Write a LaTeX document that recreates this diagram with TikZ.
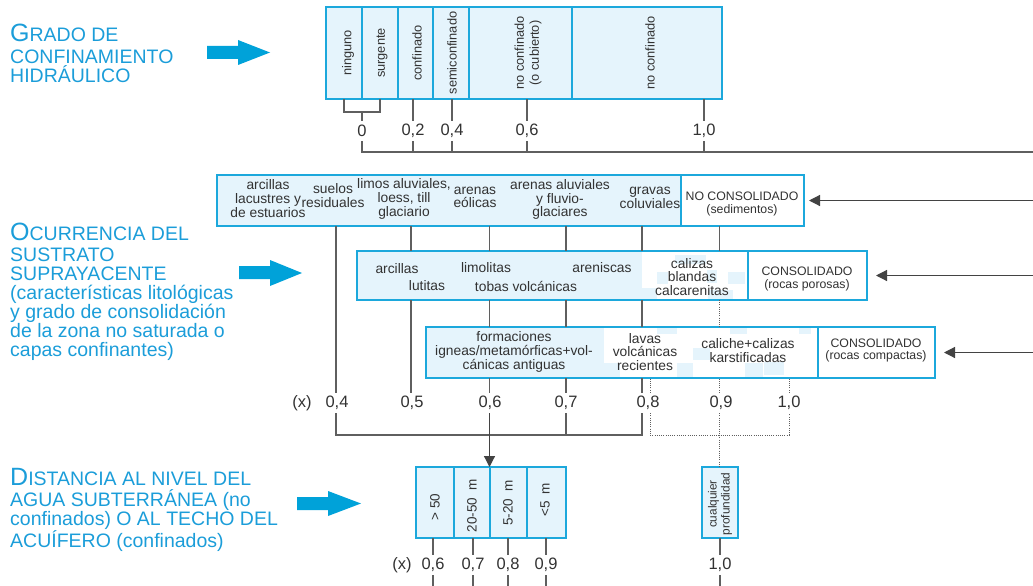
\documentclass[tikz,border=0pt]{standalone}
\usepackage{fontspec}
\setmainfont{Liberation Sans}
\usetikzlibrary{arrows.meta}
\definecolor{ttl}{RGB}{27,157,217}
\definecolor{arw}{RGB}{0,162,217}
\definecolor{bord}{RGB}{28,168,220}
\definecolor{cfill}{RGB}{229,244,252}
\definecolor{lng}{RGB}{95,95,95}
\definecolor{txt}{RGB}{50,50,50}
\tikzset{
 ln/.style={draw=lng, line width=1.2pt},
 dln/.style={draw=lng, line width=1pt, dash pattern=on 1pt off 1.2pt},
 fb/.style={draw=lng!70!black, line width=1.2pt, -{Triangle[length=11pt,width=11pt]}},
 dnarrow/.style={draw=lng!70!black, line width=1.2pt, -{Triangle[length=11pt,width=11pt]}},
 bluecell/.style={fill=cfill, draw=none, inner sep=0, outer sep=0, anchor=north west},
 whitecell/.style={fill=white, draw=none, inner sep=0, outer sep=0, anchor=north west},
 outerbox/.style={draw=bord, line width=2.6pt},
 divl/.style={draw=bord, line width=1.8pt},
 itm/.style={text=txt, align=center, font=\fontsize{13.8}{13.6}\selectfont, inner sep=0},
 cons/.style={text=txt, align=center, font=\fontsize{12.3}{12.5}\selectfont, inner sep=0},
 rot/.style={text=txt, align=center, rotate=90, font=\fontsize{12.8}{15}\selectfont, inner sep=0},
 val/.style={text=txt, font=\fontsize{16.5}{16.5}\selectfont, inner sep=0, minimum height=20pt},
 ttlnode/.style={text=ttl, align=left, anchor=north west, inner sep=0, font=\fontsize{19.5}{19}\selectfont},
 bigarr/.style={fill=arw},
 patch/.style={fill=cfill},
}
\begin{document}
\begin{tikzpicture}[x=1pt,y=-1pt]
\useasboundingbox (0,0) rectangle (1033,586);
\coordinate (redge) at (1033,0);
\coordinate (ytop) at (0,152);
\coordinate (ymid) at (0,435);
\coordinate (ybot) at (0,586);
\coordinate (colA) at (336,0);
\coordinate (colB) at (411,0);
\coordinate (colC) at (489.5,0);
\coordinate (colD) at (566,0);
\coordinate (colE) at (642,0);
\coordinate (colF) at (719.5,0);
\coordinate (colG) at (650,0);
\coordinate (colH) at (789,0);

% ---------- titles ----------
\node[ttlnode] (title1) at (10,24) {{\fontsize{25}{19}\selectfont G}RADO DE\\[2.5pt]CONFINAMIENTO\\HIDRÁULICO};
\node[ttlnode] (title2) at (10,222.5) {{\fontsize{25}{19}\selectfont O}CURRENCIA DEL\\[2pt]SUSTRATO\\SUPRAYACENTE\\(características litológicas\\y grado de consolidación\\de la zona no saturada o\\capas confinantes)};
\node[ttlnode] (title3) at (10,468.5) {{\fontsize{25}{19}\selectfont D}ISTANCIA AL NIVEL DEL\\[2pt]AGUA SUBTERRÁNEA (no\\confinados) O AL TECHO DEL\\ACUÍFERO (confinados)};

% ---------- big arrows ----------
\fill[bigarr] (207,46) -- (238,46) -- (238,40) -- (270,52.5) -- (238,65) -- (238,59) -- (207,59) -- cycle;
\fill[bigarr] (239,266) -- (270,266) -- (270,260) -- (302,273) -- (270,286) -- (270,279) -- (239,279) -- cycle;
\fill[bigarr] (297,497) -- (328,497) -- (328,491) -- (361,503.5) -- (328,516) -- (328,510) -- (297,510) -- cycle;

% ---------- top box ----------
\node[bluecell, minimum width=36, minimum height=92] (c1) at (326,7) {};
\node[bluecell, minimum width=36, minimum height=92] (c2) at (362,7) {};
\node[bluecell, minimum width=35, minimum height=92] (c3) at (398,7) {};
\node[bluecell, minimum width=36, minimum height=92] (c4) at (433,7) {};
\node[bluecell, minimum width=103, minimum height=92] (c5) at (469,7) {};
\node[bluecell, minimum width=150, minimum height=92] (c6) at (572,7) {};
\foreach \c in {c2,c3,c4,c5,c6} \draw[divl] (\c.north west) -- (\c.south west);
\draw[outerbox] (c1.north west) rectangle (c6.south east);
\node[rot] (r1) at (348,53) {ninguno};
\node[rot] (r2) at (382,53) {surgente};
\node[rot] (r3) at (417,53) {confinado};
\node[rot] (r4) at (452,53) {semiconfinado};
\node[rot] (r5) at (528,53) {no confinado\\(o cubierto)};
\node[rot] (r6) at (650,53) {no confinado};

\node[val] (t00) at (362,131) {0};
\node[val] (t02) at (413,131) {0,2};
\node[val] (t04) at (452,131) {0,4};
\node[val] (t06) at (527,131) {0,6};
\node[val] (t10) at (704,131) {1,0};
\draw[ln] (c1.south) -- ++(0,13) -| (c2.south);
\draw[ln] (t00.north) -- ++(0,-9);
\foreach \t in {t02,t04,t06,t10} \draw[ln] (\t.north) -- (\t.north |- c1.south);
\foreach \t in {t02,t04,t06,t10} \draw[ln] (\t.south) -- (\t.south |- ytop);
\draw[ln] (t00.south) -- (t00.south |- ytop) -- (redge |- ytop);

% ---------- box 1 : no consolidado ----------
\node[bluecell, minimum width=464, minimum height=51] (b1a) at (217,175) {};
\node[whitecell, minimum width=123, minimum height=51] (b1b) at (681,175) {};
\draw[divl] (b1b.north west) -- (b1b.south west);
\draw[outerbox] (b1a.north west) rectangle (b1b.south east);
\node[itm] (i11) at (268,198.5) {arcillas\\lacustres y\\de estuarios};
\node[itm] (i12) at (333,195.5) {suelos\\residuales};
\node[itm] (i13) at (404,199) {limos aluviales,\\loess, till\\glaciario};
\node[itm] (i14) at (475,197.5) {arenas\\eólicas};
\node[itm] (i15) at (560,199.5) {arenas aluviales\\y fluvio-\\glaciares};
\node[itm] (i16) at (650,198) {gravas\\coluviales};
\node[cons] (i17) at (742,204) {NO CONSOLIDADO\\(sedimentos)};

% ---------- box 2 : rocas porosas ----------
\node[bluecell, minimum width=285, minimum height=49] (b2a) at (357,251) {};
\node[whitecell, minimum width=106, minimum height=49] (b2b) at (642,251) {};
\node[whitecell, minimum width=119, minimum height=49] (b2c) at (748,251) {};
\fill[patch] (675,255) rectangle (706,264);
\fill[patch] (657,272) rectangle (668,284);
\fill[patch] (707,270) rectangle (717,283);
\fill[patch] (728,272) rectangle (745,284);
\fill[patch] (642,288) rectangle (657,300);
\fill[patch] (708,290) rectangle (733,299);
\draw[divl] (b2c.north west) -- (b2c.south west);
\draw[outerbox] (b2a.north west) rectangle (b2c.south east);
\node[itm] (i21) at (397,269) {arcillas};
\node[itm] (i22) at (427,286) {lutitas};
\node[itm] (i23) at (486,268) {limolitas};
\node[itm] (i24) at (526,286) {tobas volcánicas};
\node[itm] (i25) at (602,268) {areniscas};
\node[itm] (i26) at (692,277) {calizas\\blandas\\calcarenitas};
\node[cons] (i27) at (807,279) {CONSOLIDADO\\(rocas porosas)};

% ---------- box 3 : rocas compactas ----------
\node[bluecell, minimum width=178, minimum height=51] (b3a) at (426,327) {};
\node[whitecell, minimum width=214, minimum height=51] (b3b) at (604,327) {};
\node[whitecell, minimum width=117, minimum height=51] (b3c) at (818,327) {};
\fill[patch] (657,327) rectangle (677,334);
\fill[patch] (604,363) rectangle (620,378);
\fill[patch] (677,363) rectangle (693,378);
\fill[patch] (693,348) rectangle (710,360);
\fill[patch] (730,327) rectangle (747,334);
\fill[patch] (745,363) rectangle (763,378);
\fill[patch] (764,362) rectangle (784,375);
\fill[patch] (799,327) rectangle (811,334);
\draw[divl] (b3c.north west) -- (b3c.south west);
\draw[outerbox] (b3a.north west) rectangle (b3c.south east);
\node[itm] (i31) at (514,352) {formaciones\\igneas/metamórficas+vol-\\cánicas antiguas};
\node[itm] (i32) at (645,352) {lavas\\volcánicas\\recientes};
\node[itm] (i33) at (748,350.5) {caliche+calizas\\karstificadas};
\node[cons] (i34) at (876,350.5) {CONSOLIDADO\\(rocas compactas)};

% ---------- feedback arrows from the right ----------
\draw[fb, shorten >=5pt] (redge |- b1b.east) -- (b1b.east);
\draw[fb, shorten >=9pt] (redge |- b2c.east) -- (b2c.east);
\draw[fb, shorten >=9pt] (redge |- b3c.east) -- (b3c.east);

% ---------- connectors between boxes ----------
\foreach \k in {colB,colC,colD,colE,colF} \draw[ln] (\k |- b1a.south) -- (\k |- b2a.north);
\foreach \k in {colC,colD,colE} \draw[ln] (\k |- b2a.south) -- (\k |- b3a.north);
\draw[dln] (colF |- b2a.south) -- (colF |- b3a.north);

% ---------- middle values ----------
\node[val] (mx) at (302,403) {(x)};
\node[val] (m04) at (337,403) {0,4};
\node[val] (m05) at (412,403) {0,5};
\node[val] (m06) at (490,403) {0,6};
\node[val] (m07) at (566,403) {0,7};
\node[val] (m08) at (648,403) {0,8};
\node[val] (m09) at (721,403) {0,9};
\node[val] (m10) at (789,403) {1,0};
\draw[ln] (colA |- m04.north) -- (colA |- b1a.south);
\draw[ln] (colB |- m05.north) -- (colB |- b2a.south);
\draw[ln] (colC |- m06.north) -- (colC |- b3a.south);
\draw[ln] (colD |- m07.north) -- (colD |- b3a.south);
\draw[ln] (colE |- m08.north) -- (colE |- b3a.south);
\draw[dln] (colG |- m08.north) -- (colG |- b3a.south);
\draw[dln] (colF |- m09.north) -- (colF |- b3a.south);
\draw[dln] (colH |- m10.north) -- (colH |- b3a.south);
% brackets below
\draw[ln] (colA |- m04.south) -- (colA |- ymid) -- (colE |- ymid) -- (colE |- m08.south);
\draw[ln] (colD |- m07.south) -- (colD |- ymid);
\draw[dln] (colG |- m08.south) -- (colG |- ymid) -- (colH |- ymid) -- (colH |- m10.south);

% ---------- bottom boxes ----------
\node[bluecell, minimum width=38, minimum height=71] (d1) at (416,467) {};
\node[bluecell, minimum width=36, minimum height=71] (d2) at (454,467) {};
\node[bluecell, minimum width=37, minimum height=71] (d3) at (490,467) {};
\node[bluecell, minimum width=39, minimum height=71] (d4) at (527,467) {};
\foreach \c in {d2,d3,d4} \draw[divl] (\c.north west) -- (\c.south west);
\draw[outerbox] (d1.north west) rectangle (d4.south east);
\node[bluecell, minimum width=36, minimum height=71] (e1) at (702,467) {};
\draw[outerbox] (e1.north west) rectangle (e1.south east);

\node[rot, font=\fontsize{13.5}{15}\selectfont] (s1) at (435,507) {> 50};
\node[rot, font=\fontsize{13.5}{15}\selectfont] (s2) at (472,506) {20-50\hspace{7pt}m};
\node[rot, font=\fontsize{13.5}{15}\selectfont] (s3) at (508,503) {5-20\hspace{7pt}m};
\node[rot, font=\fontsize{13.5}{15}\selectfont] (s4) at (545,500) {<5\hspace{7pt}m};
\node[rot, font=\fontsize{11.8}{13}\selectfont] (s5) at (720,504) {cualquier\\profundidad};

\draw[dnarrow] (colC |- m06.south) -- (colC |- d3.north);
\draw[dln] (colF |- m09.south) -- (colF |- e1.north);

\node[val] (bx) at (402,565) {(x)};
\node[val] (b06) at (433,565) {0,6};
\node[val] (b07) at (473,565) {0,7};
\node[val] (b08) at (508,565) {0,8};
\node[val] (b09) at (546,565) {0,9};
\node[val] (b10) at (720,565) {1,0};
\foreach \t in {b06,b07,b08,b09} {
  \draw[ln] (\t.north) -- (\t.north |- d1.south);
  \draw[ln] (\t.south) -- (\t.south |- ybot);
}
\draw[ln] (b10.north) -- (b10.north |- e1.south);
\draw[ln] (b10.south) -- (b10.south |- ybot);
\end{tikzpicture}
\end{document}
